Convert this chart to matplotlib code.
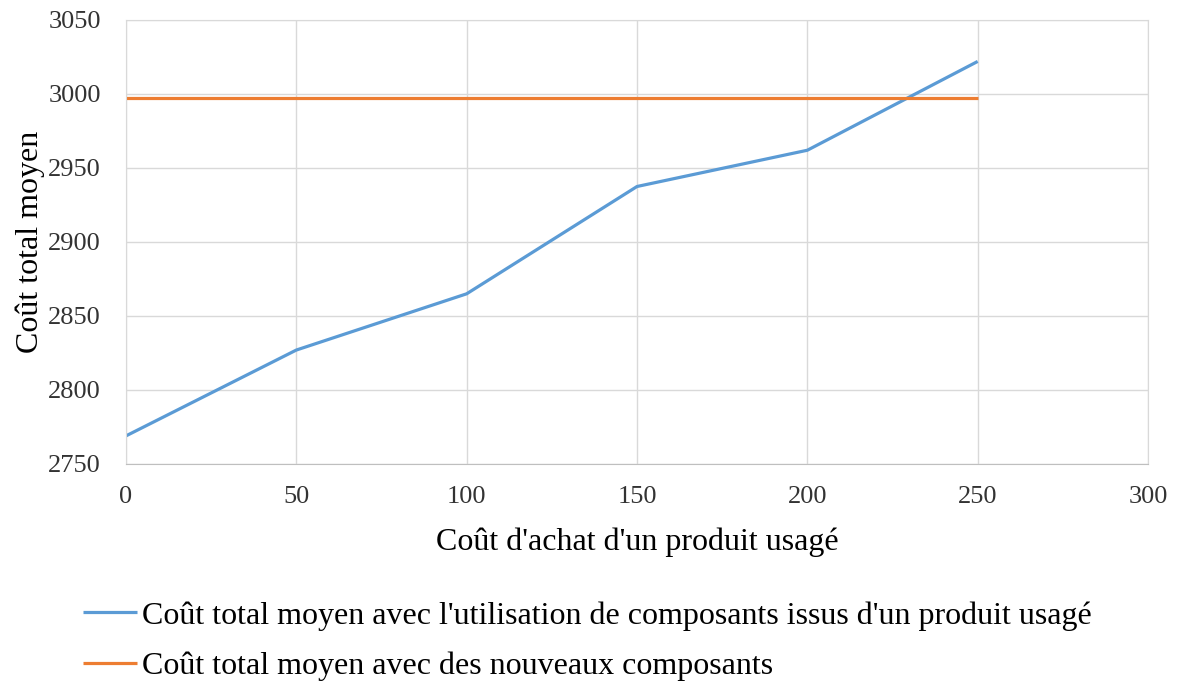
import matplotlib
matplotlib.use("Agg")
import matplotlib.pyplot as plt

x_values = [0, 50, 100, 150, 200, 250]
used_costs = [2769, 2827, 2865, 2937.5, 2962, 3022]
new_costs = [2997, 2997, 2997, 2997, 2997, 2997]
label_used = "Coût total moyen avec l'utilisation de composants issus d'un produit usagé"
label_new = "Coût total moyen avec des nouveaux composants"
xlabel = "Coût d'achat d'un produit usagé"
ylabel = "Coût total moyen"

plt.rcParams['font.family'] = ['Liberation Serif', 'DejaVu Serif']

fig = plt.figure(figsize=(11.8, 6.82), dpi=100)
ax = fig.add_axes([126/1180, 1-464/682, (1148-126)/1180, (464-20)/682])

l1, = ax.plot(x_values, used_costs, color='#5B9BD5', lw=2.3, label=label_used, solid_capstyle='butt')
l2, = ax.plot(x_values, new_costs, color='#ED7D31', lw=2.3, label=label_new, solid_capstyle='butt')

ax.set_xlim(0, 300)
ax.set_ylim(2750, 3050)
ax.set_xticks(range(0, 301, 50))
ax.set_yticks(range(2750, 3051, 50))
ax.grid(True, color='#d9d9d9', lw=1)
ax.set_axisbelow(True)
for s in ax.spines.values():
    s.set_color('#d9d9d9')
ax.spines['bottom'].set_color('#bfbfbf')
ax.tick_params(length=0, labelsize=19, colors='#333333')
ax.tick_params(axis='x', pad=16)
ax.tick_params(axis='y', pad=18)
ax.set_xlabel(xlabel, fontsize=23, labelpad=14)
ax.set_ylabel(ylabel, fontsize=23, va='center')
ax.yaxis.set_label_coords(-96/1022, 0.5)

fig.legend(handles=[l1, l2], loc='center left', bbox_to_anchor=(83/1180, 1-641/682),
           frameon=False, fontsize=23, handlelength=1.7, handletextpad=0.15,
           labelspacing=0.65, borderaxespad=0, borderpad=0)

fig.savefig('out.png', dpi=100)
